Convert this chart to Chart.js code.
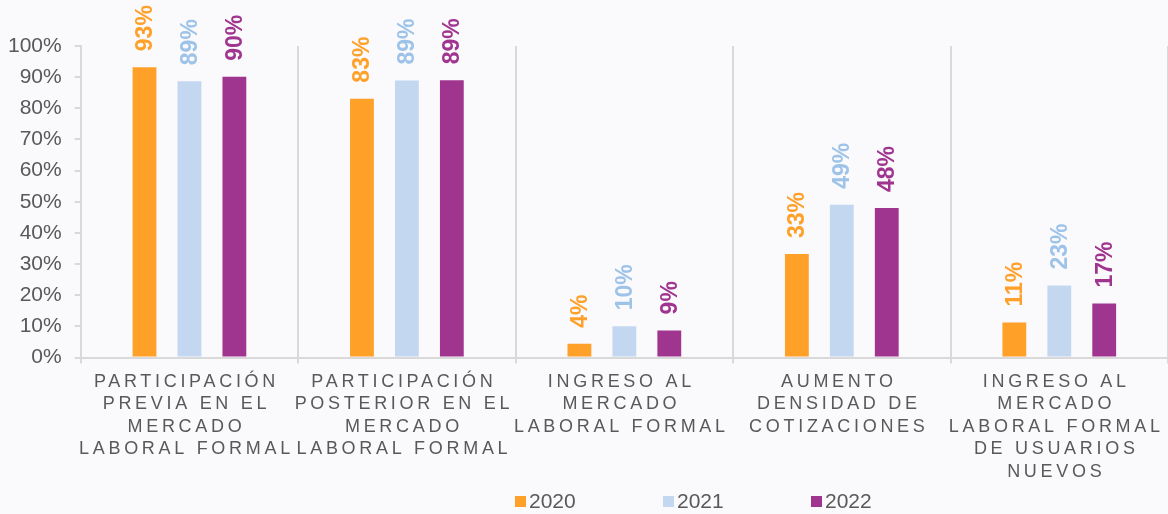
<!DOCTYPE html>
<html>
<head>
<meta charset="utf-8">
<script src="https://cdn.jsdelivr.net/npm/chart.js@4.4.1/dist/chart.umd.min.js"></script>
<style>
  html, body { margin: 0; padding: 0; background: #faf9fc; }
  #wrap { width: 1168px; height: 514px; position: relative; }
</style>
</head>
<body>
<div id="wrap"><canvas id="participacion_chart"></canvas></div>
<script>
const categories = [
    ["PARTICIPACIÓN", "PREVIA EN EL", "MERCADO", "LABORAL FORMAL"],
    ["PARTICIPACIÓN", "POSTERIOR EN EL", "MERCADO", "LABORAL FORMAL"],
    ["INGRESO AL", "MERCADO", "LABORAL FORMAL"],
    ["AUMENTO", "DENSIDAD DE", "COTIZACIONES"],
    ["INGRESO AL", "MERCADO", "LABORAL FORMAL", "DE USUARIOS", "NUEVOS"]
];
const series_names = ["2020", "2021", "2022"];
const values_2020 = [93.2, 83.1, 4.4, 33.2, 11.2];
const values_2021 = [88.7, 88.9, 10.0, 49.0, 23.1];
const values_2022 = [90.1, 89.0, 8.7, 48.0, 17.3];
const y_ticks = [0, 10, 20, 30, 40, 50, 60, 70, 80, 90, 100];

const bar_colors = ["#ffa028", "#c3d8f0", "#a0358f"];
const label_colors = ["#ffa028", "#9dc3e8", "#a0358f"];
const text_gray = "#595959";
const line_gray = "#d9d9d9";
const font_family = '"Liberation Sans", Arial, sans-serif';

// page background
const background_plugin = {
    id: "background_plugin",
    beforeDraw(chart) {
        const ctx = chart.ctx;
        ctx.save();
        ctx.fillStyle = "#faf9fc";
        ctx.fillRect(0, 0, chart.width, chart.height);
        ctx.restore();

        // spaced-out category labels
        const x_scale = chart.scales.x;
        if (x_scale && !x_scale._spaced) {
            const original = x_scale.drawLabels.bind(x_scale);
            x_scale.drawLabels = function (area) {
                this.ctx.save();
                this.ctx.letterSpacing = "3.7px";
                this.ctx.translate(-3, 0);
                original(area);
                this.ctx.restore();
            };
            x_scale._spaced = true;
        }
    }
};

// rotated value labels above the bars
const value_labels_plugin = {
    id: "value_labels_plugin",
    afterDatasetsDraw(chart) {
        const ctx = chart.ctx;
        chart.data.datasets.forEach((dataset, i) => {
            const meta = chart.getDatasetMeta(i);
            meta.data.forEach((bar, j) => {
                ctx.save();
                ctx.translate(bar.x + 1, bar.y - 16);
                ctx.rotate(-Math.PI / 2);
                ctx.font = "bold 23px " + font_family;
                ctx.fillStyle = label_colors[i];
                ctx.textAlign = "left";
                ctx.textBaseline = "middle";
                ctx.fillText(Math.round(dataset.data[j]) + "%", 0, 0);
                ctx.restore();
            });
        });
    }
};

// legend spread out under the chart
const legend_plugin = {
    id: "legend_plugin",
    afterDraw(chart) {
        const ctx = chart.ctx;
        const start_x = 515;
        const step = 148;
        const center_y = 501;
        ctx.save();
        ctx.font = "21px " + font_family;
        ctx.textBaseline = "middle";
        ctx.textAlign = "left";
        chart.data.datasets.forEach((dataset, i) => {
            const x = start_x + i * step;
            ctx.fillStyle = dataset.backgroundColor;
            ctx.fillRect(x, center_y - 5, 11, 11);
            ctx.fillStyle = text_gray;
            ctx.fillText(dataset.label, x + 14, center_y + 1);
        });
        ctx.restore();
    }
};

const participacion_chart = new Chart("participacion_chart",
{
    type: "bar",
    data:
    {
        labels: categories,
        datasets:
        [
            { label: series_names[0], data: values_2020, backgroundColor: bar_colors[0] },
            { label: series_names[1], data: values_2021, backgroundColor: bar_colors[1] },
            { label: series_names[2], data: values_2022, backgroundColor: bar_colors[2] }
        ]
    },
    options:
    {
        animation: false,
        responsive: true,
        maintainAspectRatio: false,
        datasets:
        {
            bar:
            {
                categoryPercentage: 0.62,
                barPercentage: 0.53
            }
        },
        layout:
        {
            padding: { top: 46, left: -5, right: 0, bottom: 24 }
        },
        plugins:
        {
            legend: { display: false },
            tooltip: { enabled: false }
        },
        scales:
        {
            x:
            {
                grid:
                {
                    color: line_gray,
                    lineWidth: 2,
                    tickLength: 6,
                    offset: true
                },
                border: { color: line_gray, width: 2 },
                ticks:
                {
                    autoSkip: false,
                    maxRotation: 0,
                    minRotation: 0,
                    padding: 7,
                    color: text_gray,
                    font: { family: font_family, size: 18, lineHeight: 1.25 }
                }
            },
            y:
            {
                min: 0,
                max: 100,
                afterBuildTicks(scale) {
                    scale.ticks = y_ticks.map(v => ({ value: v }));
                },
                grid:
                {
                    drawOnChartArea: false,
                    color: line_gray,
                    lineWidth: 2,
                    tickLength: 6
                },
                border: { color: line_gray, width: 2 },
                ticks:
                {
                    padding: 13,
                    color: text_gray,
                    font: { family: font_family, size: 21 },
                    callback: v => v + "%"
                }
            }
        }
    },
    plugins: [background_plugin, value_labels_plugin, legend_plugin]
});
</script>
</body>
</html>
